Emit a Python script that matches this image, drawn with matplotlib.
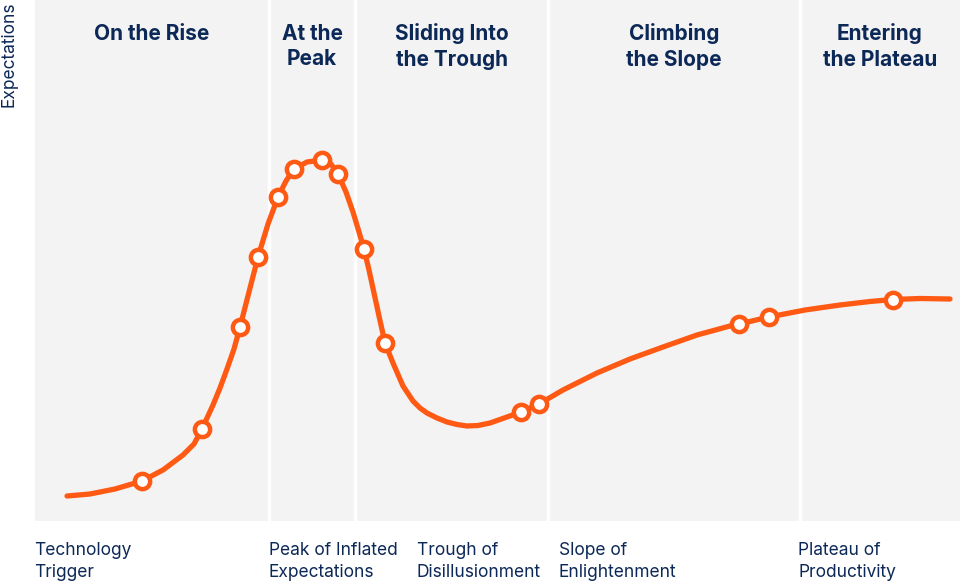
import matplotlib.pyplot as plt

# hype curve (time, expectations)
curve_x = [32, 55, 80, 107, 128, 148, 159, 167, 178, 185, 192, 199, 205, 214,
           223, 233, 243, 251, 259, 272, 287, 296, 303, 311, 318, 324, 329, 334,
           339, 344, 350, 358, 368, 378, 385, 392, 402, 412, 422, 432, 443, 455,
           472, 486, 504, 528, 562, 595, 628, 662, 695, 704, 734, 770, 805, 835,
           858, 885, 915]
curve_y = [25, 27, 32, 40, 51, 66, 77, 92, 116, 133, 152, 172, 194, 229,
           264, 297, 324, 340, 352, 359, 361, 357, 347, 329, 309, 289, 272, 251,
           228, 205, 178, 158, 135, 120, 113, 108, 103, 99, 96.5, 95, 95.5, 98,
           104, 109, 117, 131, 148, 162, 174, 186, 195, 197, 204, 211, 216, 219.5,
           221.5, 222.5, 222]

# technologies placed on the curve
tech_x = [107, 167, 205, 223, 243, 259, 287, 303, 329, 350, 486, 504, 704, 734, 858]
tech_y = [40, 92, 194, 264, 324, 352, 361, 347, 272, 178, 109, 117, 197, 204, 221.5]

# phases
phase_edges = [0, 234, 320, 513, 765, 925]
phase_titles = ["On the Rise", "At the\nPeak", "Sliding Into\nthe Trough",
                "Climbing\nthe Slope", "Entering\nthe Plateau"]
stage_labels = ["Technology\nTrigger", "Peak of Inflated\nExpectations",
                "Trough of\nDisillusionment", "Slope of\nEnlightenment",
                "Plateau of\nProductivity"]
stage_x = [-1, 234, 382, 524, 763]

NAVY = "#0c2857"
ORANGE = "#ff5a14"

fig = plt.figure(figsize=(9.6, 5.82), dpi=100)
fig.patch.set_facecolor("white")
ax = fig.add_axes([35 / 960, 61 / 582, 925 / 960, 521 / 582])
ax.set_facecolor("#f3f3f3")
ax.set_xlim(0, 925)
ax.set_ylim(0, 521)
for s in ax.spines.values():
    s.set_visible(False)
ax.set_xticks([])
ax.set_yticks([])

for e in phase_edges[1:-1]:
    ax.axvline(e, color="white", lw=2.4, zorder=1)

for i, t in enumerate(phase_titles):
    cx = (phase_edges[i] + phase_edges[i + 1]) / 2
    ax.text(cx, 497.5, t, ha="center", va="top", fontsize=15, fontweight="bold",
            family="Inter", color=NAVY, linespacing=1.33)

ax.plot(curve_x, curve_y, color=ORANGE, lw=3.8, solid_capstyle="round",
        solid_joinstyle="round", zorder=2)
ax.plot(tech_x, tech_y, "o", ms=11, mfc="white", mec=ORANGE, mew=3.2, zorder=3)

for x, t in zip(stage_x, stage_labels):
    ax.text(x, -21, t, ha="left", va="top", fontsize=12.5, family="Inter",
            color=NAVY, linespacing=1.35, clip_on=False)

fig.text(9 / 960, 1 - 54 / 582, "Expectations", rotation=90, ha="center",
         va="center", fontsize=12.5, family="Inter", color=NAVY)

fig.savefig("out.png", dpi=100)
